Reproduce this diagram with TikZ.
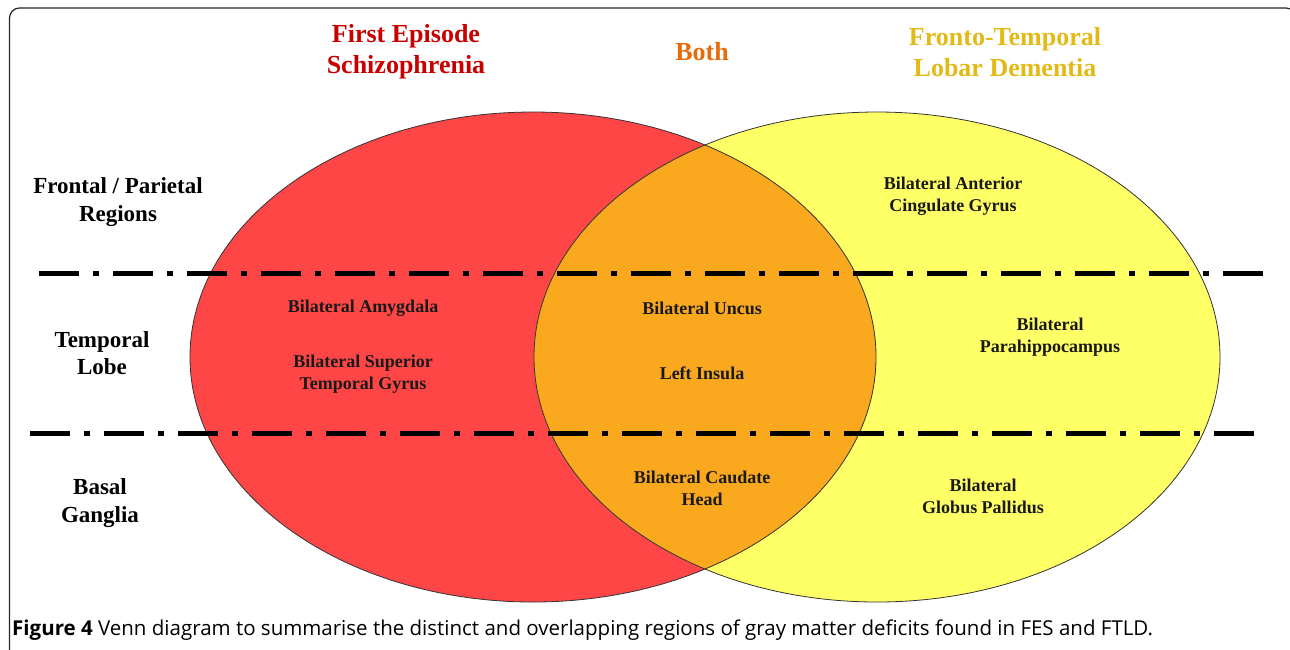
\documentclass[tikz,border=0pt]{standalone}
\usepackage{fontspec}
\setmainfont{Liberation Serif}
\newfontfamily\capfont{Open Sans}
\usetikzlibrary{positioning}
\definecolor{fesred}{RGB}{255,70,70}
\definecolor{ftldyellow}{RGB}{255,255,102}
\definecolor{bothorange}{RGB}{250,168,30}
\definecolor{festext}{RGB}{200,0,0}
\definecolor{bothtext}{RGB}{228,108,10}
\definecolor{ftldtext}{RGB}{226,186,22}

\begin{document}
\begin{tikzpicture}[x=1pt,y=-1pt,
    region/.style={align=center,text=black!90,font=\bfseries\fontsize{18}{22}\selectfont},
    band/.style={align=center,font=\bfseries\fontsize{23}{27.5}\selectfont},
    heading/.style={align=center,font=\bfseries\fontsize{26}{31}\selectfont},
    divider/.style={line width=5pt,dash pattern=on 40pt off 14pt on 6pt off 14pt},
    blob/.style={draw=black!80,line width=0.8pt},
]
    \useasboundingbox (0,0) rectangle (1290,649);
    \clip (0,0) rectangle (1290,649);

    \coordinate (fes) at (533,357);
    \coordinate (ftld) at (877,357);
    \def\rx{343pt}
    \def\ry{245pt}

    \draw [black!85,line width=1.2pt,rounded corners=10pt] (9.5,8) rectangle (1296,662);

    % the two sets and their overlap
    \fill [fesred] (fes) ellipse [x radius=\rx, y radius=\ry];
    \fill [ftldyellow] (ftld) ellipse [x radius=\rx, y radius=\ry];
    \begin{scope}
        \clip (fes) ellipse [x radius=\rx, y radius=\ry];
        \fill [bothorange] (ftld) ellipse [x radius=\rx, y radius=\ry];
    \end{scope}
    \draw [blob] (fes) ellipse [x radius=\rx, y radius=\ry];
    \draw [blob] (ftld) ellipse [x radius=\rx, y radius=\ry];

    \draw [divider] (39,273) -- (1273,273);
    \draw [divider] (30,433) -- (1263,433);

    \node [heading,text=festext] (fes title) at (406,52) {First Episode\\Schizophrenia};
    \node [heading,text=bothtext] (both title) at (702,52) {Both};
    \node [heading,text=ftldtext] (ftld title) at (1005,52) {Fronto-Temporal\\Lobar Dementia};

    \node [band] (frontal) at (118,202) {Frontal / Parietal\\Regions};
    \node [band] (temporal) at (102,353) {Temporal\\Lobe};
    \node [band] (basal) at (100,503) {Basal\\Ganglia};

    \node [region] (amygdala) at (363,308) {Bilateral Amygdala};
    \node [region] (stg) at (363,374) {Bilateral Superior\\Temporal Gyrus};
    \node [region] (uncus) at (702,308) {Bilateral Uncus};
    \node [region] (insula) at (702,373) {Left Insula};
    \node [region] (caudate) at (702,488) {Bilateral Caudate\\Head};
    \node [region] (acg) at (953,196) {Bilateral Anterior\\Cingulate Gyrus};
    \node [region] (phc) at (1050,337) {Bilateral\\Parahippocampus};
    \node [region] (gp) at (983,496) {Bilateral\\Globus Pallidus};

    \node [anchor=base west,inner sep=0pt,font=\capfont\fontsize{20.5}{24}\selectfont] (caption) at (12,635)
        {\textbf{Figure 4} Venn diagram to summarise the distinct and overlapping regions of gray matter deficits found in FES and FTLD.};
\end{tikzpicture}
\end{document}
